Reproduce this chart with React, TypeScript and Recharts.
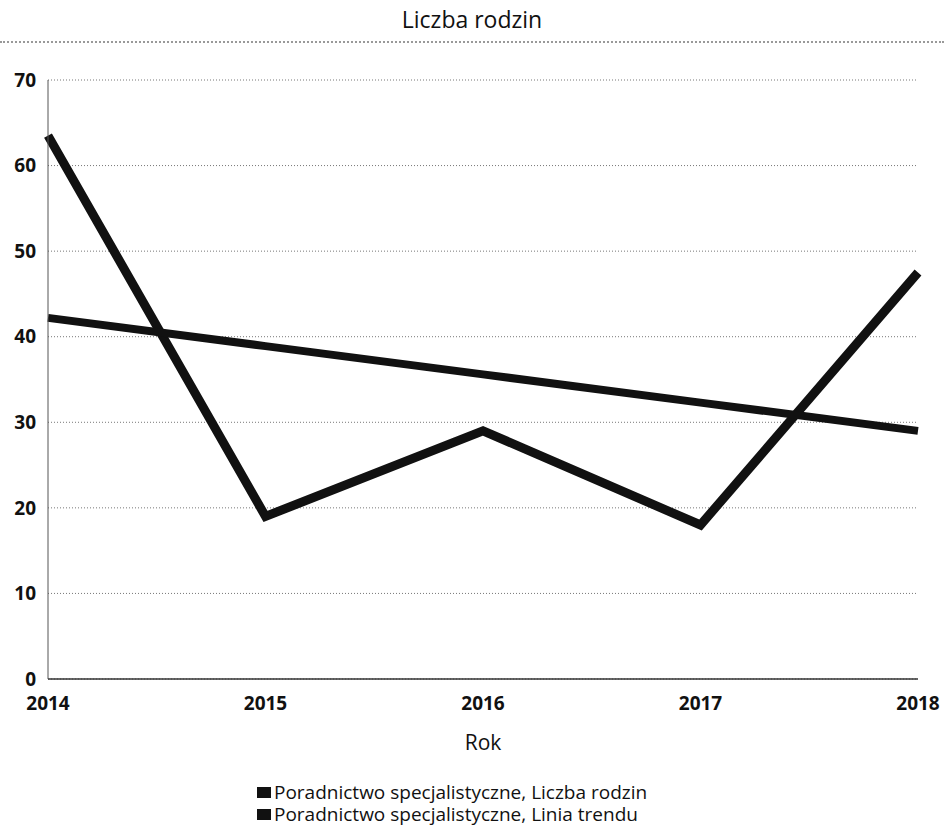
import { LineChart, Line, XAxis, YAxis, CartesianGrid, Legend } from "recharts";

const years = ["2014", "2015", "2016", "2017", "2018"];
const families = [63.5, 19, 29, 18, 47.5];
const trend = [42.2, 38.9, 35.6, 32.3, 29];
const yTicks = [0, 10, 20, 30, 40, 50, 60, 70];

const seriesNames = [
  "Poradnictwo specjalistyczne, Liczba rodzin",
  "Poradnictwo specjalistyczne, Linia trendu",
];

const data = years.map((year, i) => ({
  year,
  families: families[i],
  trend: trend[i],
}));

const FONT = "'Open Sans', 'DejaVu Sans', sans-serif";

const renderLegend = () => (
  <div
    style={{
      fontFamily: FONT,
      fontSize: 19,
      color: "#111",
      lineHeight: "22px",
      fontWeight: 500,
      paddingTop: 2,
    }}
  >
    {seriesNames.map((name) => (
      <div key={name} style={{ display: "flex", alignItems: "center", height: 22 }}>
        <span
          style={{
            display: "inline-block",
            width: 14,
            height: 11,
            background: "#111",
            marginRight: 3,
          }}
        />
        {name}
      </div>
    ))}
  </div>
);

export default function App() {
  return (
    <div style={{ position: "absolute", left: 0, top: 0, width: 944, height: 832, background: "#fff" }}>
      <div
        style={{
          position: "absolute",
          top: 3,
          left: 0,
          width: 944,
          textAlign: "center",
          fontFamily: FONT,
          fontSize: 23,
          fontWeight: 500,
          color: "#111",
        }}
      >
        Liczba rodzin
      </div>
      <div
        style={{
          position: "absolute",
          top: 41,
          left: 0,
          width: 944,
          borderTop: "2px dotted #999",
        }}
      />
      <LineChart
        width={944}
        height={832}
        data={data}
        margin={{ top: 80, right: 26, bottom: 0, left: 0 }}
      >
        <CartesianGrid vertical={false} stroke="#777" strokeDasharray="1 2" />
        <XAxis
          dataKey="year"
          axisLine={{ stroke: "#333", strokeWidth: 1.5 }}
          tickLine={false}
          tickSize={0}
          tickMargin={18}
          height={100}
          tick={{ fill: "#111", fontFamily: FONT, fontSize: 19, fontWeight: "bold" }}
          label={{
            value: "Rok",
            position: "insideTop",
            offset: 56,
            fill: "#111",
            fontFamily: FONT,
            fontSize: 21,
            fontWeight: 500,
          }}
        />
        <YAxis
          width={48}
          domain={[0, 70]}
          ticks={yTicks}
          axisLine={{ stroke: "#555", strokeWidth: 1 }}
          tickLine={false}
          tickSize={0}
          tickMargin={12}
          tick={{ fill: "#111", fontFamily: FONT, fontSize: 19, fontWeight: "bold" }}
        />
        <Legend
          verticalAlign="bottom"
          align="left"
          height={53}
          wrapperStyle={{ left: 257 }}
          content={renderLegend}
        />
        <Line
          type="linear"
          dataKey="families"
          name={seriesNames[0]}
          stroke="#111"
          strokeWidth={9}
          dot={false}
          isAnimationActive={false}
        />
        <Line
          type="linear"
          dataKey="trend"
          name={seriesNames[1]}
          stroke="#111"
          strokeWidth={8}
          dot={false}
          isAnimationActive={false}
        />
      </LineChart>
    </div>
  );
}
